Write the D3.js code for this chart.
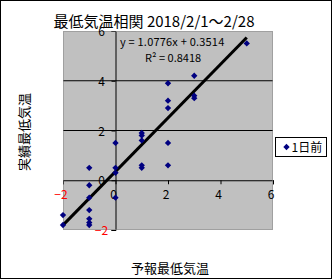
<!DOCTYPE html>
<html>
<head>
<meta charset="utf-8">
<script src="https://cdn.jsdelivr.net/npm/d3@7"></script>
<style>
  body { margin: 0; background: #fff; }
  text { font-family: "Noto Sans CJK JP", "DejaVu Sans", sans-serif; }
</style>
</head>
<body>
<svg id="chart"></svg>
<script>
const title = "最低気温相関 2018/2/1～2/28";
const xTitle = "予報最低気温";
const yTitle = "実績最低気温";
const seriesName = "1日前";

// forecast min temp (x) / observed min temp (y)
const forecast = [5, 3, 3, 3, 2, 2, 2, 1, 1, 1, 0, 2, 1, 1, 2, -1, 0, 0, -1, 0, -1, -1, -2, -1, -1, -1, -2];
const observed = [5.5, 4.2, 3.4, 3.3, 3.9, 3.2, 2.9, 1.9, 1.8, 1.6, 1.5, 1.5, 0.6, 0.5, 0.6, 0.5, 0.5, 0.3, -0.2, -0.7, -0.7, -1.2, -1.4, -1.55, -1.7, -1.8, -1.8];

const xTicks = [-2, 0, 2, 4, 6];
const yTicks = [-2, 0, 2, 4, 6];
const slope = 1.0776, intercept = 0.3514, r2 = 0.8418;
const trendRange = [-2, 5];

const width = 332, height = 279;
const plot = { left: 63, right: 273, top: 31, bottom: 230 };

const svg = d3.select("#chart")
    .attr("width", width)
    .attr("height", height);

// outer frame
svg.append("rect")
    .attr("x", 0.5).attr("y", 0.5)
    .attr("width", width - 1).attr("height", height - 1)
    .attr("fill", "#fff").attr("stroke", "#000");

const x = d3.scaleLinear().domain([-2, 6]).range([plot.left, plot.right]);
const y = d3.scaleLinear().domain([-2, 6]).range([plot.bottom, plot.top]);

// plot area
svg.append("rect")
    .attr("x", plot.left).attr("y", plot.top)
    .attr("width", plot.right - plot.left).attr("height", plot.bottom - plot.top)
    .attr("fill", "#c0c0c0");

// horizontal gridlines
svg.append("g")
    .selectAll("line")
    .data(yTicks.filter(d => d > -2 && d < 6 && d !== 0))
    .join("line")
    .attr("x1", plot.left).attr("x2", plot.right)
    .attr("y1", d => y(d)).attr("y2", d => y(d))
    .attr("stroke", "#000");

// x axis through y=0
const xAxis = svg.append("g")
    .attr("transform", `translate(0,${y(0)})`)
    .call(d3.axisBottom(x).tickValues(xTicks).tickSize(4).tickFormat(""));
xAxis.select(".domain").attr("stroke", "#000");

// y axis through x=0
const yAxis = svg.append("g")
    .attr("transform", `translate(${x(0)},0)`)
    .call(d3.axisLeft(y).tickValues(yTicks).tickSize(4).tickFormat(""));
yAxis.select(".domain").attr("stroke", "#000");

// plot border
svg.append("rect")
    .attr("x", plot.left + 0.5).attr("y", plot.top + 0.5)
    .attr("width", plot.right - plot.left - 1).attr("height", plot.bottom - plot.top - 1)
    .attr("fill", "none")
    .attr("stroke", "#808080")
    .attr("stroke-dasharray", "1,1");

// tick labels
svg.append("g")
    .selectAll("text")
    .data(xTicks)
    .join("text")
    .attr("x", d => x(d) - 2)
    .attr("y", y(0) + 19)
    .attr("text-anchor", "middle")
    .attr("font-size", 12)
    .attr("fill", d => d < 0 ? "#ff0000" : "#000")
    .text(d => d < 0 ? "−" + Math.abs(d) : d);

svg.append("g")
    .selectAll("text")
    .data(yTicks)
    .join("text")
    .attr("x", x(0) - 14)
    .attr("y", d => y(d) + 5)
    .attr("text-anchor", "middle")
    .attr("font-size", 12)
    .attr("fill", d => d < 0 ? "#ff0000" : "#000")
    .text(d => d < 0 ? "−" + Math.abs(d) : d);

// trendline
svg.append("line")
    .attr("x1", x(trendRange[0])).attr("y1", y(slope * trendRange[0] + intercept))
    .attr("x2", x(trendRange[1])).attr("y2", y(slope * trendRange[1] + intercept))
    .attr("stroke", "#000")
    .attr("stroke-width", 3);

// points
const points = forecast.map((d, i) => ({ x: d, y: observed[i] }));
const diamond = d3.symbol().type(d3.symbolSquare).size(20);
svg.append("g")
    .selectAll("path")
    .data(points)
    .join("path")
    .attr("d", diamond)
    .attr("transform", d => `translate(${x(d.x)},${y(d.y)}) rotate(45)`)
    .attr("fill", "#000080");

// trendline label
svg.append("text")
    .attr("x", 120).attr("y", 46)
    .attr("font-size", 11)
    .attr("letter-spacing", 0.2)
    .text(`y = ${slope}x + ${intercept}`);
svg.append("text")
    .attr("x", 145).attr("y", 62)
    .attr("font-size", 11)
    .text(`R² = ${r2}`);

// title
svg.append("text")
    .attr("x", 154).attr("y", 27)
    .attr("text-anchor", "middle")
    .attr("font-size", 15)
    .text(title);

// axis titles
svg.append("text")
    .attr("x", 170).attr("y", 273)
    .attr("text-anchor", "middle")
    .attr("font-size", 13)
    .text(xTitle);

svg.append("text")
    .attr("transform", `translate(29,132) rotate(-90)`)
    .attr("text-anchor", "middle")
    .attr("font-size", 13)
    .text(yTitle);

// legend
const legend = svg.append("g").attr("transform", "translate(275.5,137.5)");
legend.append("rect")
    .attr("width", 51).attr("height", 19)
    .attr("fill", "#fff").attr("stroke", "#000");
legend.append("path")
    .attr("d", diamond)
    .attr("transform", "translate(11,9.5) rotate(45)")
    .attr("fill", "#000080");
legend.append("text")
    .attr("x", 16).attr("y", 14)
    .attr("font-size", 12)
    .text(seriesName);
</script>
</body>
</html>
